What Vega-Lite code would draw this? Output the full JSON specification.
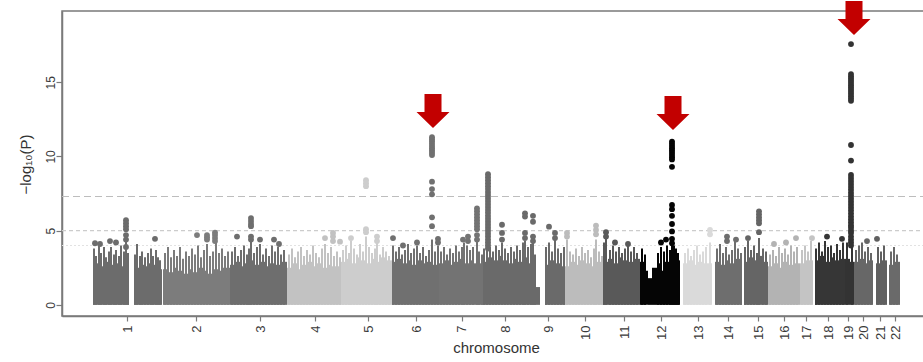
{
"$schema": "https://vega.github.io/schema/vega-lite/v6.json",
"width": 862,
"height": 305,
"autosize": {"type": "none"},
"padding": {"left": 62, "top": 11, "right": 0, "bottom": 46},
"background": "#ffffff",
"config": {"view": {"stroke": "#7a7a7a", "strokeWidth": 1.5}, "font": "Liberation Sans"},
"datasets": {
"body": [
{"chr":1,"pos":31,"end":36,"p":2.8},{"chr":1,"pos":36,"end":41,"p":2.6},{"chr":1,"pos":41,"end":46,"p":2.9},{"chr":1,"pos":46,"end":51,"p":2.7},{"chr":1,"pos":51,"end":56,"p":2.8},{"chr":1,"pos":56,"end":61,"p":2.6},{"chr":1,"pos":61,"end":67,"p":2.9},{"chr":1,"pos":72,"end":77,"p":2.5},{"chr":1,"pos":77,"end":82,"p":2.7},{"chr":1,"pos":82,"end":87,"p":2.6},{"chr":1,"pos":87,"end":92,"p":2.8},{"chr":1,"pos":92,"end":97,"p":2.7},{"chr":1,"pos":97,"end":100,"p":2.4},
{"chr":2,"pos":101,"end":106,"p":2.4},{"chr":2,"pos":106,"end":111,"p":2.2},{"chr":2,"pos":111,"end":116,"p":2.5},{"chr":2,"pos":116,"end":121,"p":2.3},{"chr":2,"pos":121,"end":126,"p":2.1},{"chr":2,"pos":126,"end":131,"p":2.4},{"chr":2,"pos":131,"end":136,"p":2.2},{"chr":2,"pos":136,"end":141,"p":2.5},{"chr":2,"pos":141,"end":146,"p":2.3},{"chr":2,"pos":146,"end":151,"p":2.1},{"chr":2,"pos":151,"end":156,"p":2.4},{"chr":2,"pos":156,"end":161,"p":2.3},{"chr":2,"pos":161,"end":168,"p":2.5},
{"chr":3,"pos":168,"end":173,"p":2.7},{"chr":3,"pos":173,"end":178,"p":2.9},{"chr":3,"pos":178,"end":183,"p":2.6},{"chr":3,"pos":183,"end":188,"p":2.8},{"chr":3,"pos":188,"end":193,"p":3.0},{"chr":3,"pos":193,"end":198,"p":2.7},{"chr":3,"pos":198,"end":203,"p":2.9},{"chr":3,"pos":203,"end":208,"p":2.6},{"chr":3,"pos":208,"end":213,"p":2.8},{"chr":3,"pos":213,"end":218,"p":2.7},{"chr":3,"pos":218,"end":225,"p":2.9},
{"chr":4,"pos":225,"end":230,"p":2.5},{"chr":4,"pos":230,"end":235,"p":2.8},{"chr":4,"pos":235,"end":240,"p":2.4},{"chr":4,"pos":240,"end":245,"p":2.7},{"chr":4,"pos":245,"end":250,"p":2.9},{"chr":4,"pos":250,"end":255,"p":2.6},{"chr":4,"pos":255,"end":260,"p":2.8},{"chr":4,"pos":260,"end":265,"p":2.5},{"chr":4,"pos":265,"end":270,"p":2.7},{"chr":4,"pos":270,"end":279,"p":2.6},
{"chr":5,"pos":279,"end":284,"p":2.9},{"chr":5,"pos":284,"end":289,"p":3.1},{"chr":5,"pos":289,"end":294,"p":2.8},{"chr":5,"pos":294,"end":299,"p":3.2},{"chr":5,"pos":299,"end":304,"p":3.0},{"chr":5,"pos":304,"end":309,"p":2.8},{"chr":5,"pos":309,"end":314,"p":3.1},{"chr":5,"pos":314,"end":319,"p":2.9},{"chr":5,"pos":319,"end":324,"p":3.2},{"chr":5,"pos":324,"end":330,"p":3.0},
{"chr":6,"pos":330,"end":335,"p":2.9},{"chr":6,"pos":335,"end":340,"p":3.1},{"chr":6,"pos":340,"end":345,"p":2.8},{"chr":6,"pos":345,"end":350,"p":3.0},{"chr":6,"pos":350,"end":355,"p":2.7},{"chr":6,"pos":355,"end":360,"p":3.0},{"chr":6,"pos":360,"end":365,"p":2.8},{"chr":6,"pos":365,"end":370,"p":2.9},{"chr":6,"pos":370,"end":377,"p":2.7},
{"chr":7,"pos":377,"end":382,"p":2.8},{"chr":7,"pos":382,"end":387,"p":3.0},{"chr":7,"pos":387,"end":392,"p":2.7},{"chr":7,"pos":392,"end":397,"p":2.9},{"chr":7,"pos":397,"end":402,"p":3.1},{"chr":7,"pos":402,"end":407,"p":2.8},{"chr":7,"pos":407,"end":412,"p":3.0},{"chr":7,"pos":412,"end":421,"p":2.8},
{"chr":8,"pos":421,"end":426,"p":2.9},{"chr":8,"pos":426,"end":431,"p":3.2},{"chr":8,"pos":431,"end":436,"p":3.0},{"chr":8,"pos":436,"end":441,"p":3.3},{"chr":8,"pos":441,"end":446,"p":3.0},{"chr":8,"pos":446,"end":451,"p":2.8},{"chr":8,"pos":451,"end":456,"p":3.1},{"chr":8,"pos":456,"end":461,"p":2.9},{"chr":8,"pos":461,"end":466,"p":3.2},{"chr":8,"pos":466,"end":471,"p":2.8},{"chr":8,"pos":471,"end":474,"p":2.4},{"chr":8,"pos":474,"end":478,"p":1.2},
{"chr":9,"pos":483,"end":488,"p":2.7},{"chr":9,"pos":488,"end":493,"p":3.0},{"chr":9,"pos":493,"end":498,"p":2.8},{"chr":9,"pos":498,"end":503,"p":2.6},
{"chr":10,"pos":503,"end":508,"p":2.6},{"chr":10,"pos":508,"end":513,"p":2.9},{"chr":10,"pos":513,"end":518,"p":2.7},{"chr":10,"pos":518,"end":523,"p":3.0},{"chr":10,"pos":523,"end":528,"p":2.8},{"chr":10,"pos":528,"end":533,"p":2.6},{"chr":10,"pos":533,"end":541,"p":2.9},
{"chr":11,"pos":541,"end":546,"p":2.9},{"chr":11,"pos":546,"end":551,"p":3.1},{"chr":11,"pos":551,"end":556,"p":2.8},{"chr":11,"pos":556,"end":561,"p":3.2},{"chr":11,"pos":561,"end":566,"p":3.0},{"chr":11,"pos":566,"end":571,"p":2.9},{"chr":11,"pos":571,"end":578,"p":3.1},
{"chr":12,"pos":578,"end":584,"p":2.9},{"chr":12,"pos":584,"end":586,"p":2.3},{"chr":12,"pos":586,"end":590,"p":1.8},{"chr":12,"pos":590,"end":595,"p":2.5},{"chr":12,"pos":595,"end":600,"p":2.8},{"chr":12,"pos":600,"end":603,"p":2.3},{"chr":12,"pos":603,"end":608,"p":2.9},{"chr":12,"pos":608,"end":613,"p":3.1},{"chr":12,"pos":613,"end":618,"p":3.0},
{"chr":13,"pos":621,"end":626,"p":2.8},{"chr":13,"pos":626,"end":631,"p":3.0},{"chr":13,"pos":631,"end":636,"p":2.7},{"chr":13,"pos":636,"end":641,"p":2.9},{"chr":13,"pos":641,"end":650,"p":2.8},
{"chr":14,"pos":653,"end":658,"p":2.9},{"chr":14,"pos":658,"end":663,"p":2.7},{"chr":14,"pos":663,"end":668,"p":3.0},{"chr":14,"pos":668,"end":673,"p":2.8},{"chr":14,"pos":673,"end":680,"p":3.1},
{"chr":15,"pos":682,"end":687,"p":2.9},{"chr":15,"pos":687,"end":692,"p":3.2},{"chr":15,"pos":692,"end":697,"p":3.0},{"chr":15,"pos":697,"end":702,"p":3.3},{"chr":15,"pos":702,"end":706,"p":2.9},
{"chr":16,"pos":706,"end":711,"p":2.6},{"chr":16,"pos":711,"end":716,"p":2.8},{"chr":16,"pos":716,"end":721,"p":2.5},{"chr":16,"pos":721,"end":726,"p":2.9},{"chr":16,"pos":726,"end":731,"p":2.7},{"chr":16,"pos":731,"end":738,"p":2.8},
{"chr":17,"pos":738,"end":744,"p":2.8},{"chr":17,"pos":744,"end":751,"p":3.0},
{"chr":18,"pos":753,"end":758,"p":3.0},{"chr":18,"pos":758,"end":763,"p":3.3},{"chr":18,"pos":763,"end":768,"p":2.9},{"chr":18,"pos":768,"end":773,"p":3.2},{"chr":18,"pos":773,"end":778,"p":3.0},{"chr":18,"pos":778,"end":783,"p":3.1},
{"chr":19,"pos":783,"end":788,"p":3.1},{"chr":19,"pos":788,"end":792,"p":2.9},
{"chr":20,"pos":792,"end":797,"p":2.9},{"chr":20,"pos":797,"end":802,"p":3.1},{"chr":20,"pos":802,"end":807,"p":2.8},{"chr":20,"pos":807,"end":811,"p":3.0},
{"chr":21,"pos":814,"end":820,"p":2.8},{"chr":21,"pos":820,"end":825,"p":3.0},
{"chr":22,"pos":827,"end":832,"p":2.7},{"chr":22,"pos":832,"end":838,"p":2.9}
],
"spikes": [
{"chr":1,"pos":32,"p":3.8},{"chr":1,"pos":34,"p":3.3},{"chr":1,"pos":37,"p":4.0},{"chr":1,"pos":39,"p":3.5},{"chr":1,"pos":42,"p":3.9},{"chr":1,"pos":44,"p":3.2},{"chr":1,"pos":47,"p":3.6},{"chr":1,"pos":49,"p":3.9},{"chr":1,"pos":52,"p":3.4},{"chr":1,"pos":54,"p":3.7},{"chr":1,"pos":57,"p":3.3},{"chr":1,"pos":59,"p":4.0},{"chr":1,"pos":62,"p":3.6},{"chr":1,"pos":64,"p":4.4},{"chr":1,"pos":66,"p":3.5},{"chr":1,"pos":73,"p":3.4},{"chr":1,"pos":75,"p":4.1},{"chr":1,"pos":78,"p":3.3},{"chr":1,"pos":80,"p":3.6},{"chr":1,"pos":83,"p":3.2},{"chr":1,"pos":86,"p":3.5},{"chr":1,"pos":89,"p":3.8},{"chr":1,"pos":91,"p":3.3},{"chr":1,"pos":94,"p":3.7},{"chr":1,"pos":96,"p":3.2},{"chr":1,"pos":98,"p":3.0},
{"chr":2,"pos":103,"p":3.5},{"chr":2,"pos":106,"p":3.9},{"chr":2,"pos":109,"p":3.2},{"chr":2,"pos":112,"p":3.7},{"chr":2,"pos":115,"p":3.3},{"chr":2,"pos":118,"p":3.9},{"chr":2,"pos":121,"p":3.1},{"chr":2,"pos":124,"p":3.6},{"chr":2,"pos":127,"p":3.3},{"chr":2,"pos":130,"p":3.8},{"chr":2,"pos":133,"p":3.4},{"chr":2,"pos":136,"p":4.0},{"chr":2,"pos":139,"p":3.2},{"chr":2,"pos":142,"p":3.7},{"chr":2,"pos":145,"p":4.1},{"chr":2,"pos":148,"p":3.3},{"chr":2,"pos":151,"p":3.6},{"chr":2,"pos":154,"p":4.2},{"chr":2,"pos":157,"p":3.5},{"chr":2,"pos":160,"p":3.8},{"chr":2,"pos":163,"p":3.3},{"chr":2,"pos":166,"p":3.6},
{"chr":3,"pos":170,"p":3.6},{"chr":3,"pos":173,"p":3.9},{"chr":3,"pos":176,"p":3.3},{"chr":3,"pos":179,"p":3.7},{"chr":3,"pos":182,"p":4.0},{"chr":3,"pos":185,"p":3.4},{"chr":3,"pos":187,"p":3.8},{"chr":3,"pos":189,"p":4.4},{"chr":3,"pos":192,"p":3.5},{"chr":3,"pos":195,"p":3.9},{"chr":3,"pos":198,"p":4.1},{"chr":3,"pos":201,"p":3.4},{"chr":3,"pos":204,"p":3.8},{"chr":3,"pos":207,"p":3.3},{"chr":3,"pos":210,"p":4.0},{"chr":3,"pos":213,"p":3.6},{"chr":3,"pos":216,"p":3.9},{"chr":3,"pos":219,"p":3.4},{"chr":3,"pos":222,"p":3.7},
{"chr":4,"pos":227,"p":3.4},{"chr":4,"pos":230,"p":3.8},{"chr":4,"pos":233,"p":3.2},{"chr":4,"pos":236,"p":3.6},{"chr":4,"pos":239,"p":3.9},{"chr":4,"pos":242,"p":3.3},{"chr":4,"pos":245,"p":3.7},{"chr":4,"pos":248,"p":3.4},{"chr":4,"pos":251,"p":4.0},{"chr":4,"pos":254,"p":3.5},{"chr":4,"pos":257,"p":3.2},{"chr":4,"pos":260,"p":3.8},{"chr":4,"pos":263,"p":4.1},{"chr":4,"pos":266,"p":3.5},{"chr":4,"pos":269,"p":3.9},{"chr":4,"pos":272,"p":3.3},{"chr":4,"pos":275,"p":3.6},{"chr":4,"pos":278,"p":3.2},
{"chr":5,"pos":281,"p":3.7},{"chr":5,"pos":284,"p":4.0},{"chr":5,"pos":287,"p":3.5},{"chr":5,"pos":289,"p":4.3},{"chr":5,"pos":292,"p":3.8},{"chr":5,"pos":295,"p":3.4},{"chr":5,"pos":298,"p":4.1},{"chr":5,"pos":301,"p":3.6},{"chr":5,"pos":304,"p":4.6},{"chr":5,"pos":307,"p":3.9},{"chr":5,"pos":310,"p":3.5},{"chr":5,"pos":313,"p":3.8},{"chr":5,"pos":315,"p":4.3},{"chr":5,"pos":318,"p":3.4},{"chr":5,"pos":321,"p":3.9},{"chr":5,"pos":324,"p":3.6},{"chr":5,"pos":327,"p":3.3},
{"chr":6,"pos":331,"p":4.0},{"chr":6,"pos":334,"p":3.6},{"chr":6,"pos":337,"p":3.9},{"chr":6,"pos":340,"p":3.4},{"chr":6,"pos":343,"p":3.7},{"chr":6,"pos":346,"p":4.1},{"chr":6,"pos":349,"p":3.5},{"chr":6,"pos":352,"p":3.8},{"chr":6,"pos":355,"p":4.0},{"chr":6,"pos":358,"p":3.5},{"chr":6,"pos":361,"p":3.9},{"chr":6,"pos":364,"p":3.3},{"chr":6,"pos":367,"p":3.7},{"chr":6,"pos":370,"p":4.4},{"chr":6,"pos":373,"p":3.6},{"chr":6,"pos":376,"p":4.0},
{"chr":7,"pos":379,"p":3.6},{"chr":7,"pos":382,"p":3.9},{"chr":7,"pos":385,"p":3.4},{"chr":7,"pos":388,"p":3.8},{"chr":7,"pos":391,"p":3.5},{"chr":7,"pos":394,"p":4.0},{"chr":7,"pos":397,"p":3.6},{"chr":7,"pos":400,"p":3.9},{"chr":7,"pos":402,"p":4.2},{"chr":7,"pos":405,"p":4.0},{"chr":7,"pos":408,"p":3.7},{"chr":7,"pos":411,"p":3.9},{"chr":7,"pos":415,"p":4.5},{"chr":7,"pos":417,"p":3.6},{"chr":7,"pos":420,"p":3.4},
{"chr":8,"pos":422,"p":3.8},{"chr":8,"pos":425,"p":4.2},{"chr":8,"pos":428,"p":3.9},{"chr":8,"pos":431,"p":3.6},{"chr":8,"pos":434,"p":4.0},{"chr":8,"pos":437,"p":3.7},{"chr":8,"pos":440,"p":4.2},{"chr":8,"pos":443,"p":3.8},{"chr":8,"pos":446,"p":3.5},{"chr":8,"pos":449,"p":3.9},{"chr":8,"pos":452,"p":3.6},{"chr":8,"pos":455,"p":4.0},{"chr":8,"pos":458,"p":3.7},{"chr":8,"pos":461,"p":4.2},{"chr":8,"pos":463,"p":4.3},{"chr":8,"pos":466,"p":3.9},{"chr":8,"pos":469,"p":4.1},{"chr":8,"pos":471,"p":4.5},{"chr":8,"pos":473,"p":3.4},
{"chr":9,"pos":484,"p":3.9},{"chr":9,"pos":487,"p":4.2},{"chr":9,"pos":490,"p":3.6},{"chr":9,"pos":493,"p":4.4},{"chr":9,"pos":496,"p":3.8},{"chr":9,"pos":499,"p":3.5},{"chr":9,"pos":502,"p":3.9},
{"chr":10,"pos":505,"p":4.4},{"chr":10,"pos":508,"p":3.6},{"chr":10,"pos":511,"p":3.4},{"chr":10,"pos":514,"p":3.8},{"chr":10,"pos":517,"p":3.3},{"chr":10,"pos":520,"p":3.9},{"chr":10,"pos":523,"p":3.5},{"chr":10,"pos":526,"p":3.7},{"chr":10,"pos":529,"p":3.2},{"chr":10,"pos":532,"p":3.8},{"chr":10,"pos":534,"p":4.4},{"chr":10,"pos":537,"p":3.6},{"chr":10,"pos":540,"p":3.3},
{"chr":11,"pos":542,"p":4.2},{"chr":11,"pos":544,"p":4.6},{"chr":11,"pos":548,"p":3.7},{"chr":11,"pos":551,"p":4.0},{"chr":11,"pos":554,"p":3.6},{"chr":11,"pos":557,"p":3.9},{"chr":11,"pos":560,"p":3.5},{"chr":11,"pos":563,"p":3.8},{"chr":11,"pos":566,"p":4.1},{"chr":11,"pos":569,"p":3.6},{"chr":11,"pos":572,"p":3.9},{"chr":11,"pos":575,"p":3.5},
{"chr":12,"pos":580,"p":3.8},{"chr":12,"pos":583,"p":3.4},{"chr":12,"pos":596,"p":3.5},{"chr":12,"pos":599,"p":3.9},{"chr":12,"pos":602,"p":3.6},{"chr":12,"pos":605,"p":4.0},{"chr":12,"pos":608,"p":3.7},{"chr":12,"pos":610,"p":4.2},{"chr":12,"pos":612,"p":4.0},{"chr":12,"pos":614,"p":3.8},{"chr":12,"pos":616,"p":3.5},
{"chr":13,"pos":623,"p":3.5},{"chr":13,"pos":626,"p":3.8},{"chr":13,"pos":629,"p":3.3},{"chr":13,"pos":632,"p":3.7},{"chr":13,"pos":635,"p":4.0},{"chr":13,"pos":638,"p":3.4},{"chr":13,"pos":641,"p":3.6},{"chr":13,"pos":644,"p":3.9},{"chr":13,"pos":648,"p":4.2},
{"chr":14,"pos":655,"p":3.8},{"chr":14,"pos":658,"p":4.1},{"chr":14,"pos":661,"p":3.5},{"chr":14,"pos":664,"p":3.9},{"chr":14,"pos":667,"p":3.4},{"chr":14,"pos":670,"p":3.7},{"chr":14,"pos":673,"p":4.3},{"chr":14,"pos":676,"p":3.8},{"chr":14,"pos":679,"p":3.5},
{"chr":15,"pos":683,"p":3.9},{"chr":15,"pos":686,"p":4.3},{"chr":15,"pos":689,"p":3.7},{"chr":15,"pos":692,"p":4.0},{"chr":15,"pos":695,"p":3.5},{"chr":15,"pos":697,"p":4.5},{"chr":15,"pos":701,"p":3.8},{"chr":15,"pos":704,"p":3.6},
{"chr":16,"pos":708,"p":3.4},{"chr":16,"pos":711,"p":3.7},{"chr":16,"pos":714,"p":3.3},{"chr":16,"pos":717,"p":3.9},{"chr":16,"pos":720,"p":3.5},{"chr":16,"pos":723,"p":3.8},{"chr":16,"pos":726,"p":3.4},{"chr":16,"pos":729,"p":4.0},{"chr":16,"pos":732,"p":3.6},{"chr":16,"pos":735,"p":3.9},
{"chr":17,"pos":740,"p":3.7},{"chr":17,"pos":743,"p":4.0},{"chr":17,"pos":746,"p":3.6},{"chr":17,"pos":749,"p":4.3},
{"chr":18,"pos":754,"p":3.8},{"chr":18,"pos":757,"p":4.2},{"chr":18,"pos":760,"p":3.6},{"chr":18,"pos":763,"p":4.3},{"chr":18,"pos":766,"p":3.9},{"chr":18,"pos":769,"p":4.0},{"chr":18,"pos":772,"p":3.5},{"chr":18,"pos":775,"p":4.1},{"chr":18,"pos":778,"p":3.7},{"chr":18,"pos":781,"p":4.2},
{"chr":19,"pos":785,"p":4.2},{"chr":19,"pos":790,"p":3.9},
{"chr":20,"pos":794,"p":3.7},{"chr":20,"pos":797,"p":4.0},{"chr":20,"pos":800,"p":4.2},{"chr":20,"pos":803,"p":3.6},{"chr":20,"pos":806,"p":3.9},{"chr":20,"pos":809,"p":3.5},
{"chr":21,"pos":816,"p":3.9},{"chr":21,"pos":819,"p":3.6},{"chr":21,"pos":822,"p":4.0},
{"chr":22,"pos":829,"p":3.6},{"chr":22,"pos":832,"p":3.9},{"chr":22,"pos":835,"p":3.4}
],
"snps": [
{"chr":1,"pos":64,"p":5.7},{"chr":1,"pos":64,"p":5.5},{"chr":1,"pos":64,"p":5.3},{"chr":1,"pos":64,"p":5.1},{"chr":1,"pos":64,"p":4.7},{"chr":1,"pos":64,"p":4.4},{"chr":1,"pos":64,"p":3.9},{"chr":1,"pos":33,"p":4.15},{"chr":1,"pos":38,"p":4.1},{"chr":1,"pos":48,"p":4.3},{"chr":1,"pos":54,"p":4.2},{"chr":1,"pos":93,"p":4.45},
{"chr":2,"pos":135,"p":4.7},{"chr":2,"pos":145,"p":4.7},{"chr":2,"pos":145,"p":4.55},{"chr":2,"pos":145,"p":4.4},{"chr":2,"pos":153,"p":4.87},{"chr":2,"pos":153,"p":4.7},{"chr":2,"pos":153,"p":4.5},{"chr":2,"pos":153,"p":4.3},
{"chr":3,"pos":189,"p":5.85},{"chr":3,"pos":189,"p":5.65},{"chr":3,"pos":189,"p":5.45},{"chr":3,"pos":189,"p":5.3},{"chr":3,"pos":189,"p":4.6},{"chr":3,"pos":189,"p":4.4},{"chr":3,"pos":175,"p":4.6},{"chr":3,"pos":198,"p":4.4},{"chr":3,"pos":212,"p":4.4},{"chr":3,"pos":217,"p":4.1},
{"chr":4,"pos":263,"p":4.5},{"chr":4,"pos":271,"p":4.85},{"chr":4,"pos":271,"p":4.6},{"chr":4,"pos":271,"p":4.3},{"chr":4,"pos":278,"p":4.26},
{"chr":5,"pos":304,"p":8.4},{"chr":5,"pos":304,"p":8.2},{"chr":5,"pos":304,"p":8.0},{"chr":5,"pos":304,"p":5.1},{"chr":5,"pos":304,"p":4.9},{"chr":5,"pos":289,"p":4.5},{"chr":5,"pos":315,"p":4.6},{"chr":5,"pos":315,"p":4.3},
{"chr":6,"pos":370,"p":11.3},{"chr":6,"pos":370,"p":11.15},{"chr":6,"pos":370,"p":11.0},{"chr":6,"pos":370,"p":10.85},{"chr":6,"pos":370,"p":10.7},{"chr":6,"pos":370,"p":10.55},{"chr":6,"pos":370,"p":10.4},{"chr":6,"pos":370,"p":10.25},{"chr":6,"pos":370,"p":10.1},{"chr":6,"pos":370,"p":8.3},{"chr":6,"pos":370,"p":7.8},{"chr":6,"pos":370,"p":7.45},{"chr":6,"pos":370,"p":5.9},{"chr":6,"pos":370,"p":5.3},{"chr":6,"pos":376,"p":4.45},{"chr":6,"pos":376,"p":4.2},{"chr":6,"pos":331,"p":4.5},{"chr":6,"pos":341,"p":4.0},{"chr":6,"pos":355,"p":4.2},
{"chr":7,"pos":415,"p":6.5},{"chr":7,"pos":415,"p":6.3},{"chr":7,"pos":415,"p":6.1},{"chr":7,"pos":415,"p":5.9},{"chr":7,"pos":415,"p":5.7},{"chr":7,"pos":415,"p":5.5},{"chr":7,"pos":415,"p":5.3},{"chr":7,"pos":415,"p":5.1},{"chr":7,"pos":415,"p":4.7},{"chr":7,"pos":415,"p":4.4},{"chr":7,"pos":406,"p":4.6},{"chr":7,"pos":406,"p":4.3},{"chr":7,"pos":401,"p":4.4},
{"chr":8,"pos":426,"p":8.8},{"chr":8,"pos":426,"p":8.6},{"chr":8,"pos":426,"p":8.4},{"chr":8,"pos":426,"p":8.2},{"chr":8,"pos":426,"p":8.0},{"chr":8,"pos":426,"p":7.8},{"chr":8,"pos":426,"p":7.6},{"chr":8,"pos":426,"p":7.4},{"chr":8,"pos":426,"p":7.2},{"chr":8,"pos":426,"p":7.0},{"chr":8,"pos":426,"p":6.8},{"chr":8,"pos":426,"p":6.6},{"chr":8,"pos":426,"p":6.4},{"chr":8,"pos":426,"p":6.2},{"chr":8,"pos":426,"p":6.0},{"chr":8,"pos":426,"p":5.8},{"chr":8,"pos":426,"p":5.6},{"chr":8,"pos":426,"p":5.4},{"chr":8,"pos":426,"p":5.2},{"chr":8,"pos":426,"p":5.0},{"chr":8,"pos":426,"p":4.8},{"chr":8,"pos":426,"p":4.6},{"chr":8,"pos":426,"p":4.4},{"chr":8,"pos":426,"p":4.2},{"chr":8,"pos":426,"p":4.0},{"chr":8,"pos":426,"p":3.8},{"chr":8,"pos":440,"p":5.4},{"chr":8,"pos":440,"p":4.85},{"chr":8,"pos":440,"p":4.4},{"chr":8,"pos":463,"p":6.17},{"chr":8,"pos":463,"p":5.95},{"chr":8,"pos":463,"p":4.85},{"chr":8,"pos":463,"p":4.5},{"chr":8,"pos":471,"p":6.0},{"chr":8,"pos":471,"p":5.6},{"chr":8,"pos":471,"p":4.6},{"chr":8,"pos":471,"p":4.3},
{"chr":9,"pos":487,"p":5.27},{"chr":9,"pos":493,"p":4.85},{"chr":9,"pos":493,"p":4.5},
{"chr":10,"pos":505,"p":4.85},{"chr":10,"pos":505,"p":4.6},{"chr":10,"pos":534,"p":5.34},{"chr":10,"pos":534,"p":5.05},{"chr":10,"pos":534,"p":4.75},
{"chr":11,"pos":544,"p":4.9},{"chr":11,"pos":544,"p":4.6},{"chr":11,"pos":553,"p":4.2},{"chr":11,"pos":566,"p":4.1},
{"chr":12,"pos":610,"p":11.0},{"chr":12,"pos":610,"p":10.85},{"chr":12,"pos":610,"p":10.7},{"chr":12,"pos":610,"p":10.55},{"chr":12,"pos":610,"p":10.4},{"chr":12,"pos":610,"p":10.25},{"chr":12,"pos":610,"p":10.1},{"chr":12,"pos":610,"p":9.95},{"chr":12,"pos":610,"p":9.8},{"chr":12,"pos":610,"p":9.3},{"chr":12,"pos":610,"p":6.73},{"chr":12,"pos":610,"p":6.45},{"chr":12,"pos":610,"p":6.0},{"chr":12,"pos":610,"p":5.45},{"chr":12,"pos":610,"p":4.95},{"chr":12,"pos":610,"p":4.45},{"chr":12,"pos":610,"p":4.15},{"chr":12,"pos":599,"p":4.2},{"chr":12,"pos":604,"p":4.4},
{"chr":13,"pos":648,"p":5.05},{"chr":13,"pos":648,"p":4.75},
{"chr":14,"pos":665,"p":4.6},{"chr":14,"pos":665,"p":4.3},{"chr":14,"pos":674,"p":4.4},
{"chr":15,"pos":697,"p":6.3},{"chr":15,"pos":697,"p":6.1},{"chr":15,"pos":697,"p":5.9},{"chr":15,"pos":697,"p":5.7},{"chr":15,"pos":697,"p":5.5},{"chr":15,"pos":697,"p":4.9},{"chr":15,"pos":686,"p":4.5},
{"chr":16,"pos":712,"p":4.1},{"chr":16,"pos":724,"p":4.2},{"chr":16,"pos":734,"p":4.5},
{"chr":17,"pos":750,"p":4.5},
{"chr":18,"pos":765,"p":4.6},{"chr":18,"pos":780,"p":4.45},
{"chr":19,"pos":789,"p":17.57},{"chr":19,"pos":789,"p":15.55},{"chr":19,"pos":789,"p":15.4},{"chr":19,"pos":789,"p":15.25},{"chr":19,"pos":789,"p":15.1},{"chr":19,"pos":789,"p":14.95},{"chr":19,"pos":789,"p":14.8},{"chr":19,"pos":789,"p":14.65},{"chr":19,"pos":789,"p":14.5},{"chr":19,"pos":789,"p":14.35},{"chr":19,"pos":789,"p":14.2},{"chr":19,"pos":789,"p":14.05},{"chr":19,"pos":789,"p":13.9},{"chr":19,"pos":789,"p":13.75},{"chr":19,"pos":789,"p":10.77},{"chr":19,"pos":789,"p":9.72},{"chr":19,"pos":789,"p":8.75},{"chr":19,"pos":789,"p":8.55},{"chr":19,"pos":789,"p":8.35},{"chr":19,"pos":789,"p":8.15},{"chr":19,"pos":789,"p":7.95},{"chr":19,"pos":789,"p":7.75},{"chr":19,"pos":789,"p":7.55},{"chr":19,"pos":789,"p":7.35},{"chr":19,"pos":789,"p":7.15},{"chr":19,"pos":789,"p":6.95},{"chr":19,"pos":789,"p":6.75},{"chr":19,"pos":789,"p":6.55},{"chr":19,"pos":789,"p":6.35},{"chr":19,"pos":789,"p":6.15},{"chr":19,"pos":789,"p":5.95},{"chr":19,"pos":789,"p":5.75},{"chr":19,"pos":789,"p":5.55},{"chr":19,"pos":789,"p":5.35},{"chr":19,"pos":789,"p":5.2},{"chr":19,"pos":789,"p":5.0},{"chr":19,"pos":789,"p":4.85},{"chr":19,"pos":789,"p":4.6},{"chr":19,"pos":789,"p":4.4},{"chr":19,"pos":789,"p":4.2},{"chr":19,"pos":789,"p":4.0},
{"chr":20,"pos":805,"p":4.3},
{"chr":21,"pos":815,"p":4.45}
],
"arrows": [
{"chr":6,"pos":371,"p":13.06},
{"chr":12,"pos":611,"p":12.93},
{"chr":19,"pos":792,"p":19.33}
]
},
"encoding": {
"x": {"field": "pos", "type": "quantitative", "scale": {"domain": [0, 862], "nice": false, "zero": false},
"axis": {"values": [65,134,198,253,306,354,399.5,443,486,523,562,599,636,666,696,722,744,766,786,801,818,833],
"labelExpr": "'' + (indexof([65,134,198,253,306,354,399.5,443,486,523,562,599,636,666,696,722,744,766,786,801,818,833], datum.value) + 1)",
"labelAngle": 270, "labelFontSize": 13, "labelColor": "#3a3a3a", "labelPadding": 4, "labelFlush": false, "labelOverlap": false,
"tickSize": 5, "tickColor": "#7a7a7a", "tickWidth": 1.2, "domainColor": "#7a7a7a", "domainWidth": 1.5, "grid": false,
"title": "chromosome", "titleFontSize": 15, "titleFontWeight": "normal", "titleColor": "#333333",
"titleBaseline": "alphabetic", "titleY": 36, "titleX": 434}},
"y": {"field": "p", "type": "quantitative", "scale": {"domain": [-0.75, 19.8], "nice": false, "zero": false},
"axis": {"values": [0, 5, 10, 15], "labelAngle": 270, "labelAlign": "center", "labelBaseline": "alphabetic",
"labelFontSize": 12, "labelColor": "#3a3a3a", "labelPadding": 2, "labelFlush": false, "labelOverlap": false,
"tickSize": 6, "tickColor": "#7a7a7a", "tickWidth": 1.2, "domainColor": "#7a7a7a", "domainWidth": 1.5, "grid": false,
"title": "−log₁₀(P)", "titleFontSize": 15, "titleFontWeight": "normal", "titleColor": "#333333",
"titleAngle": 270, "titleBaseline": "alphabetic", "titleX": -32, "titleY": 153}}
},
"layer": [
{
"data": {"values": [{"pos": 0, "end": 862, "p": 7.3}]},
"mark": {"type": "rule", "color": "#bdbdbd", "strokeWidth": 1.2, "strokeDash": [7, 4]},
"encoding": {"x2": {"field": "end"}}
},
{
"data": {"values": [{"pos": 0, "end": 862, "p": 5}]},
"mark": {"type": "rule", "color": "#cccccc", "strokeWidth": 1.1, "strokeDash": [4, 3]},
"encoding": {"x2": {"field": "end"}}
},
{
"data": {"values": [{"pos": 0, "end": 862, "p": 4}]},
"mark": {"type": "rule", "color": "#e2e2e2", "strokeWidth": 1, "strokeDash": [2, 2]},
"encoding": {"x2": {"field": "end"}}
},
{
"data": {"name": "body"},
"mark": {"type": "rect"},
"encoding": {
"x2": {"field": "end"},
"y2": {"datum": 0},
"color": {"field": "chr", "type": "nominal", "legend": null,
"scale": {"domain": [1,2,3,4,5,6,7,8,9,10,11,12,13,14,15,16,17,18,19,20,21,22],
"range": ["#6c6c6c","#7c7c7c","#6e6e6e","#c2c2c2","#cdcdcd","#707070","#737373","#6a6a6a","#6a6a6a","#bcbcbc","#595959","#050505","#dadada","#6e6e6e","#656565","#b3b3b3","#c4c4c4","#363636","#333333","#676767","#606060","#6a6a6a"]}}
}
},
{
"data": {"name": "spikes"},
"mark": {"type": "rule", "strokeWidth": 2},
"encoding": {
"y2": {"datum": 0},
"color": {"field": "chr", "type": "nominal", "legend": null}
}
},
{
"data": {"name": "snps"},
"mark": {"type": "circle", "size": 34, "opacity": 1},
"encoding": {
"color": {"field": "chr", "type": "nominal", "legend": null}
}
},
{
"data": {"values": [{}]},
"mark": {"type": "rect", "color": "#24395f"},
"encoding": {
"x": {"datum": -80, "type": "quantitative"},
"x2": {"datum": -50},
"y": {"datum": 23, "type": "quantitative"},
"y2": {"datum": -5}
}
},
{
"data": {"values": [{}]},
"mark": {"type": "rect", "color": "#24395f"},
"encoding": {
"x": {"datum": -80, "type": "quantitative"},
"x2": {"datum": 1000},
"y": {"datum": 23, "type": "quantitative"},
"y2": {"datum": 20.34}
}
},
{
"data": {"name": "arrows"},
"mark": {"type": "point", "shape": "M-0.5,-1L0.5,-1L0.5,0.06L0.97,0.06L0,1L-0.97,0.06L-0.5,0.06Z", "filled": true, "color": "#c20000", "size": 1156, "opacity": 1, "strokeWidth": 0}
}
]
}
